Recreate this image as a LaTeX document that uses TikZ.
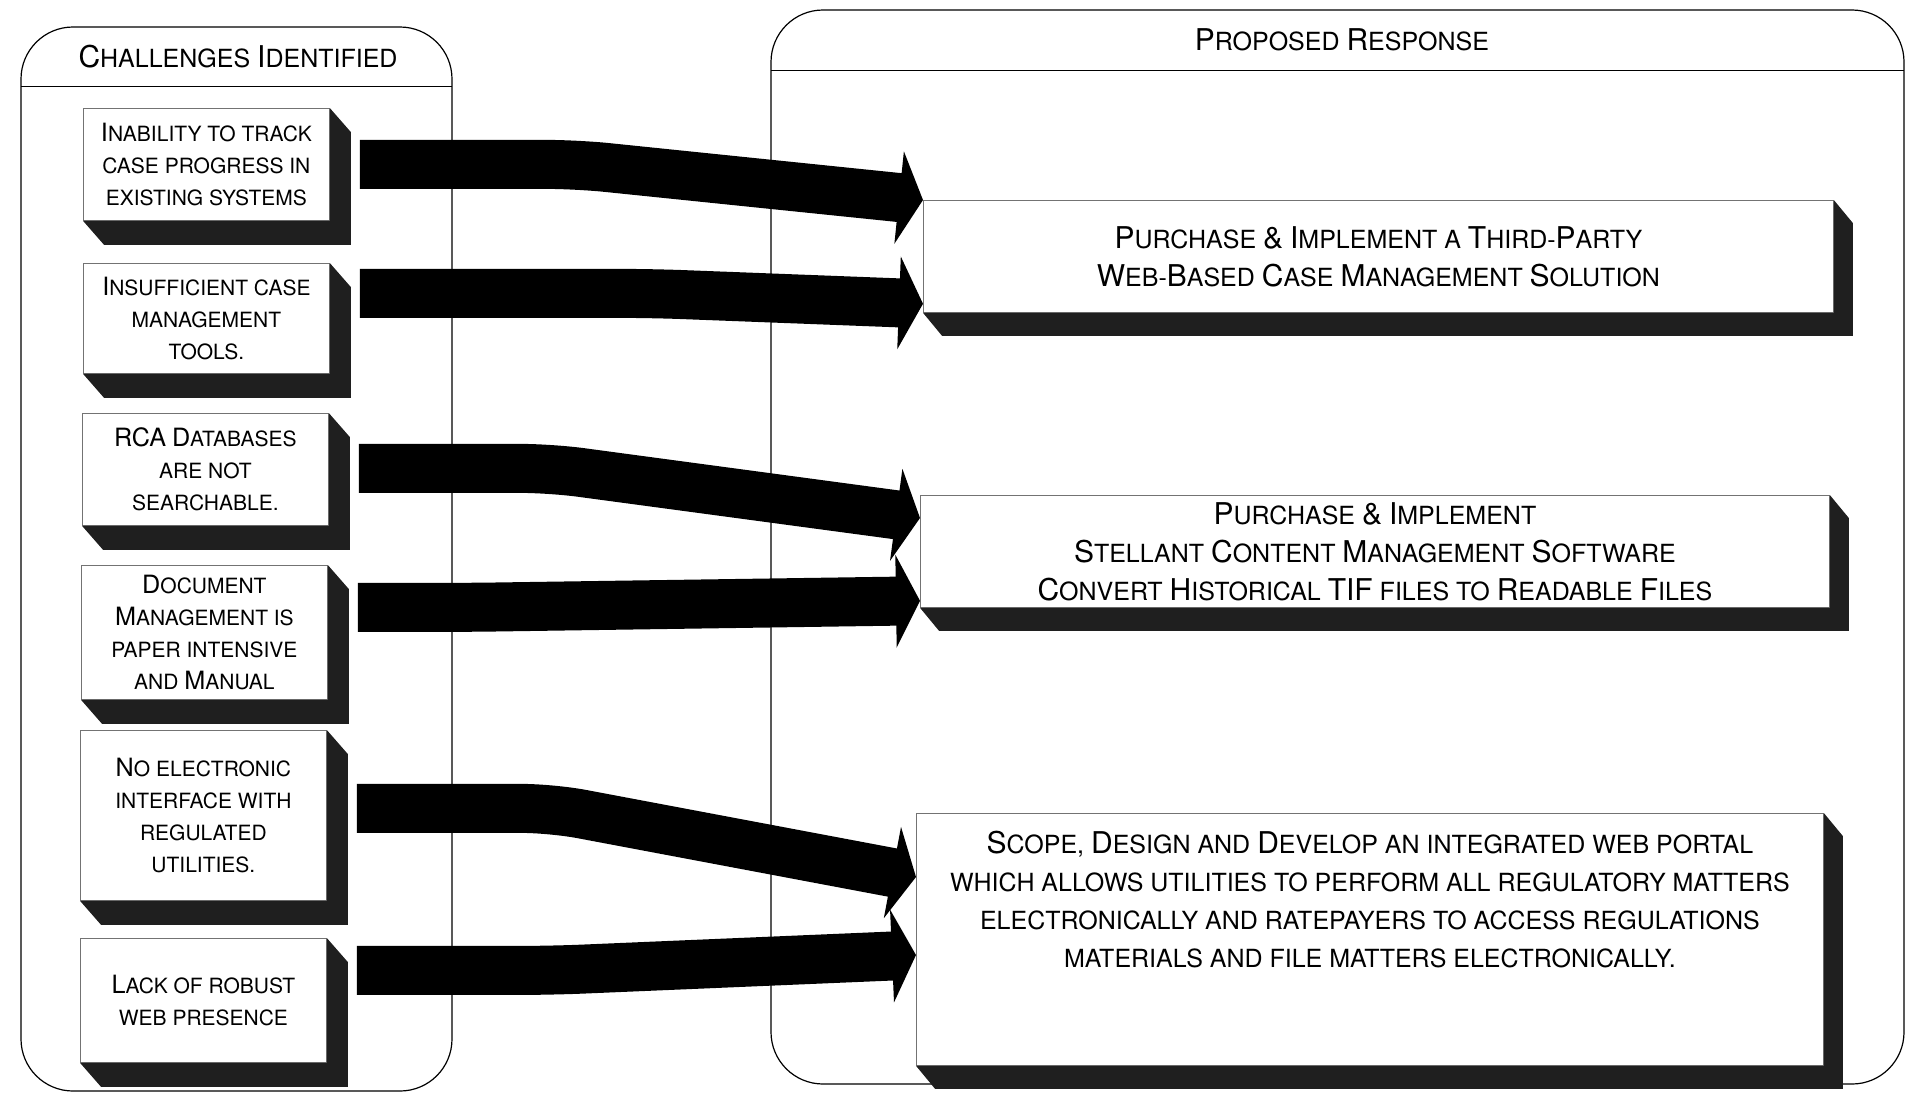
\documentclass[tikz,border=0pt]{standalone}
\usepackage{fontspec}
\setmainfont{TeX Gyre Heros}
\usetikzlibrary{arrows.meta}

% capital letters a size above the small capitals
\newcommand\Cap[1]{\scalebox{1.2}{#1}}

\tikzset{
  challenge/.style={draw=black!55, fill=white, line width=0.8pt, anchor=north west,
    minimum width=246pt, inner sep=0pt, align=center, font=\fontsize{21}{32}\selectfont},
  response/.style={draw=black!55, fill=white, line width=0.8pt, anchor=north west,
    inner sep=0pt, align=center, font=\fontsize{25}{38}\selectfont},
  flow/.style={line width=49pt, -{Triangle[length=24pt,width=92pt]}, rounded corners=30pt},
  panel/.style={line width=1.2pt, rounded corners=52pt},
}

\begin{document}
\begin{tikzpicture}[x=1pt,y=-1pt]
    \useasboundingbox (0,0) rectangle (1916,1100);

    % the two panels
    \draw[panel] (21,27) rectangle (452,1091);
    \draw (21,86) -- (452,86);
    \node[font=\fontsize{25}{28}\selectfont] (lefttitle) at (238,57) {\Cap{C}HALLENGES \Cap{I}DENTIFIED};
    \draw[panel] (771,10) rectangle (1904,1084);
    \draw (771,70) -- (1904,70);
    \node[font=\fontsize{25}{28}\selectfont] (righttitle) at (1342,40) {\Cap{P}ROPOSED \Cap{R}ESPONSE};

    % challenges
    \node[challenge, minimum height=112pt] (c1) at (83,108) {\Cap{I}NABILITY TO TRACK\\CASE PROGRESS IN\\EXISTING SYSTEMS};
    \node[challenge, minimum height=110pt] (c2) at (83,263) {\Cap{I}NSUFFICIENT CASE\\MANAGEMENT\\TOOLS.};
    \node[challenge, minimum height=112pt] (c3) at (82,413) {\Cap{RCA} \Cap{D}ATABASES\\ARE NOT\\SEARCHABLE.};
    \node[challenge, minimum height=134pt] (c4) at (81,565) {\Cap{D}OCUMENT\\\Cap{M}ANAGEMENT IS\\PAPER INTENSIVE\\AND \Cap{M}ANUAL};
    \node[challenge, minimum height=170pt] (c5) at (80,730) {\Cap{N}O ELECTRONIC\\INTERFACE WITH\\REGULATED\\UTILITIES.};
    \node[challenge, minimum height=124pt] (c6) at (80,938) {\Cap{L}ACK OF ROBUST\\WEB PRESENCE};
    \foreach \n in {c1,c2,c3,c4,c5,c6}
        \fill[black!88] (\n.north east) -- ++(21,24) -- ([shift={(21,24)}]\n.south east)
            -- ([shift={(21,24)}]\n.south west) -- (\n.south west) -- (\n.south east) -- cycle;

    % responses
    \node[response, minimum width=910pt, minimum height=112pt] (r1) at (923,200)
        {\Cap{P}URCHASE \Cap{\&} \Cap{I}MPLEMENT A \Cap{T}HIRD-\Cap{P}ARTY\\\Cap{W}EB-\Cap{B}ASED \Cap{C}ASE \Cap{M}ANAGEMENT \Cap{S}OLUTION};
    \node[response, minimum width=909pt, minimum height=112pt] (r2) at (920,495)
        {\Cap{P}URCHASE \Cap{\&} \Cap{I}MPLEMENT\\\Cap{S}TELLANT \Cap{C}ONTENT \Cap{M}ANAGEMENT \Cap{S}OFTWARE\\\Cap{C}ONVERT \Cap{H}ISTORICAL \Cap{TIF} FILES TO \Cap{R}EADABLE \Cap{F}ILES};
    \node[response, minimum width=907pt, minimum height=252pt] (r3) at (916,813) {};
    \node[anchor=north, align=center, inner sep=0pt, font=\fontsize{25}{38}\selectfont] (r3text) at ([yshift=-18pt]r3.north)
        {\Cap{S}COPE, \Cap{D}ESIGN AND \Cap{D}EVELOP AN INTEGRATED WEB PORTAL\\WHICH ALLOWS UTILITIES TO PERFORM ALL REGULATORY MATTERS\\ELECTRONICALLY AND RATEPAYERS TO ACCESS REGULATIONS\\MATERIALS AND FILE MATTERS ELECTRONICALLY.};
    \foreach \n in {r1,r2,r3}
        \fill[black!88] (\n.north east) -- ++(19,23) -- ([shift={(19,23)}]\n.south east)
            -- ([shift={(19,23)}]\n.south west) -- (\n.south west) -- (\n.south east) -- cycle;

    % arrows
    \draw[flow] ([xshift=30pt]c1.east) -- ++(217,0) -- (r1.north west);
    \draw[flow] ([shift={(30,-25)}]c2.east) -- ++(292,0) -- ([yshift=9pt]r1.south west);
    \draw[flow] ([shift={(30,-1)}]c3.east) -- ++(192,0) -- ([yshift=-23pt]r2.north west);
    \draw[flow] ([shift={(30,-25)}]c4.east) -- ++(110,0) -- ([yshift=7pt]r2.south west);
    \draw[flow] ([shift={(30,-7)}]c5.east) -- ++(195,0) -- ([yshift=-64pt]r3.north west);
    \draw[flow] ([shift={(30,-30)}]c6.east) -- ++(195,0) -- ([yshift=-142pt]r3.north west);
\end{tikzpicture}
\end{document}
